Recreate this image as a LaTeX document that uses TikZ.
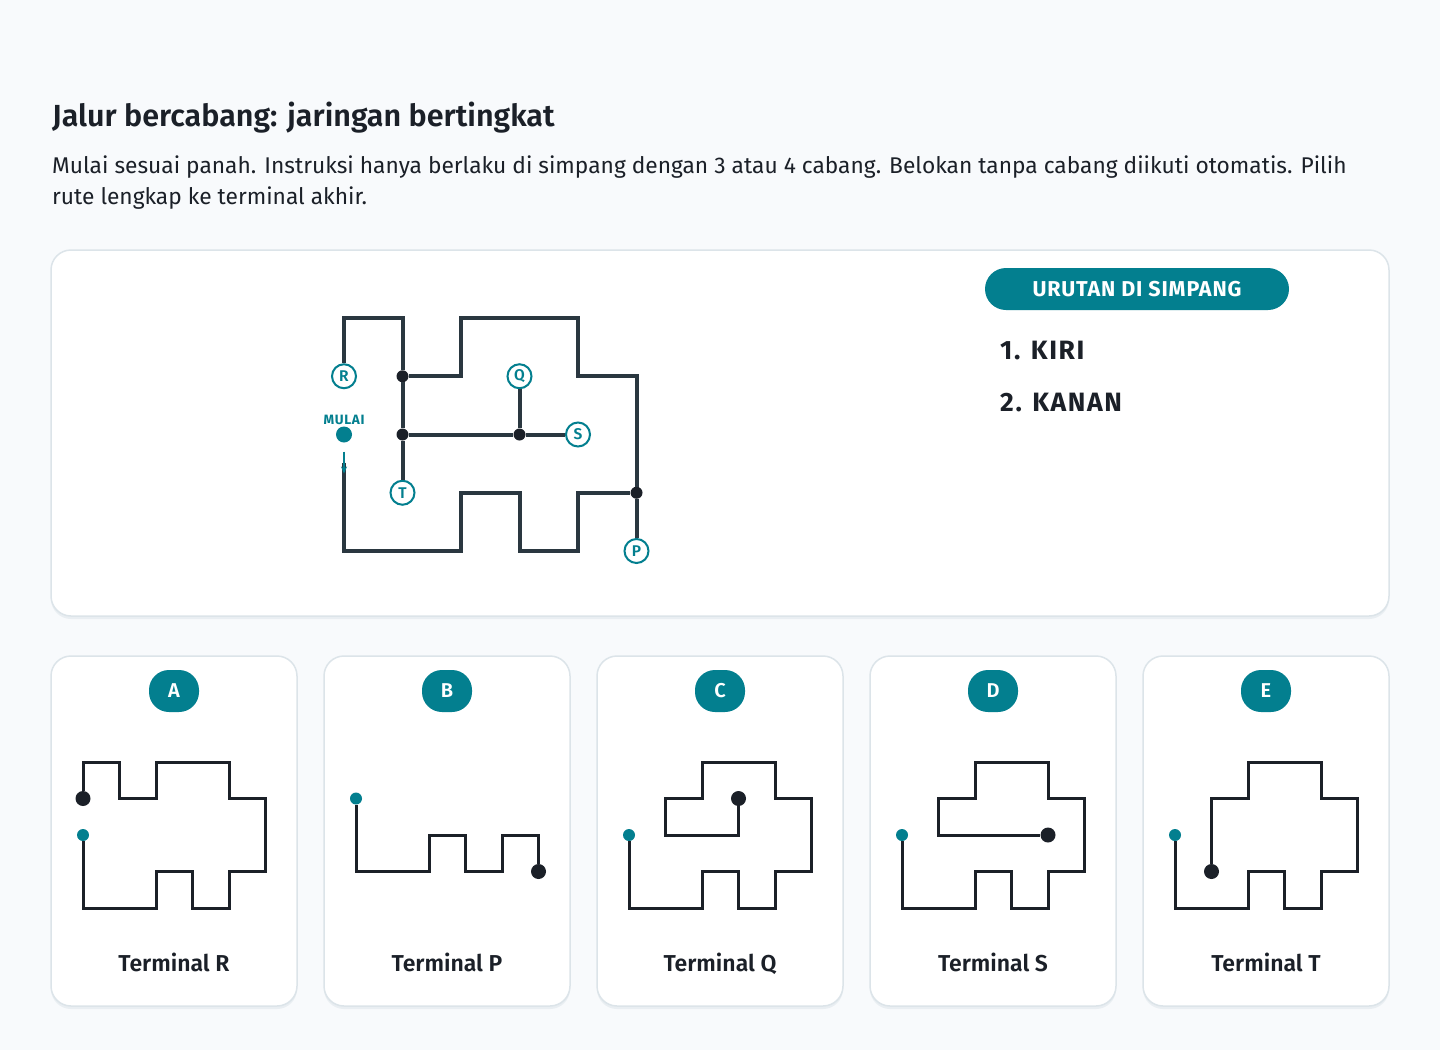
\documentclass[tikz,border=0pt]{standalone}
\usepackage{fontspec}
\setmainfont{Fira Sans}[BoldFont={Fira Sans SemiBold}]
\newfontfamily\heavyfont{Fira Sans Bold}
\usetikzlibrary{arrows.meta,shapes,positioning,backgrounds}

\definecolor{pagebg}{HTML}{F8FAFC}
\definecolor{cardline}{HTML}{DCE4E9}
\definecolor{cardshade}{HTML}{E9EEF2}
\definecolor{tealmark}{HTML}{037F8F}
\definecolor{mazeline}{HTML}{2A3740}
\definecolor{ink}{HTML}{1B2028}

\begin{document}
\begin{tikzpicture}[x=1pt,y=-1pt,>={Stealth[length=7pt,width=6pt]}]
  \tikzstyle{card}=[draw=cardline,line width=1.5pt,fill=white,rounded corners=20pt]
  \tikzstyle{shade}=[fill=cardshade,rounded corners=20pt]
  \tikzstyle{badge}=[rectangle,rounded corners=20pt,fill=tealmark,text=white,font=\bfseries\fontsize{20}{20}\selectfont,minimum width=50pt,minimum height=42pt,inner sep=0pt]
  \tikzstyle{pill}=[rectangle,rounded corners=21pt,fill=tealmark,text=white,font=\heavyfont\fontsize{21.5}{21.5}\selectfont\addfontfeature{LetterSpace=4},minimum width=304pt,minimum height=42pt,inner sep=0pt]
  \tikzstyle{terminal}=[circle,draw=tealmark,line width=2pt,fill=white,text=tealmark,font=\bfseries\fontsize{15.5}{15.5}\selectfont,minimum size=24pt,inner sep=0pt]
  \tikzstyle{junction}=[circle,fill=ink,minimum size=12pt,inner sep=0pt]
  \tikzstyle{startdot}=[circle,fill=tealmark,minimum size=16pt,inner sep=0pt]
  \tikzstyle{mulai}=[text=tealmark,font=\heavyfont\fontsize{13.5}{13.5}\selectfont\addfontfeature{LetterSpace=5},inner sep=1pt,label distance=0pt]
  \tikzstyle{wall}=[line width=4pt,draw=mazeline]
  \tikzstyle{route}=[line width=3pt,draw=ink]
  \tikzstyle{minibegin}=[circle,fill=tealmark,minimum size=12pt,inner sep=0pt]
  \tikzstyle{miniend}=[circle,fill=ink,minimum size=15pt,inner sep=0pt]
  \tikzstyle{caption}=[anchor=base,text=ink,font=\bfseries\fontsize{23}{23}\selectfont]
  \tikzstyle{steptext}=[anchor=base west,inner sep=0pt,text=ink,font=\heavyfont\fontsize{26.5}{26.5}\selectfont\addfontfeature{LetterSpace=6}]
  \tikzstyle{intro}=[anchor=base west,inner sep=0pt,text=ink,font=\fontsize{22.75}{22.75}\selectfont]

  % page and panels
  \fill [pagebg] (0,0) rectangle (1440,1050);
  \useasboundingbox (0,0) rectangle (1440,1050);
  \fill [shade] (51,253) rectangle (1389,619);
  \draw [card] (51,250) rectangle (1389,616);

  \node [anchor=base west,inner sep=0pt,text=ink,font=\bfseries\fontsize{30.5}{30.5}\selectfont] (title) at (52,126)
    {Jalur bercabang: jaringan bertingkat};
  \node [intro] (intro1) at (52,173)
    {Mulai sesuai panah. Instruksi hanya berlaku di simpang dengan 3 atau 4 cabang. Belokan tanpa cabang diikuti otomatis. Pilih};
  \node [intro] (intro2) at (52,204) {rute lengkap ke terminal akhir.};

  % order at the junctions
  \node [pill] (order) at (1137,289) {URUTAN DI SIMPANG};
  \node [steptext] (step1) at (1000,359) {1. KIRI};
  \node [steptext] (step2) at (1000,411) {2. KANAN};

  \begin{scope}[shift={(344pt,-318pt)},x=58.5pt,y=-58.25pt]
    % the network
    \node [terminal] (R) at (0,1) {R};
    \node [terminal] (T) at (1,3) {T};
    \node [terminal] (Q) at (3,1) {Q};
    \node [terminal] (S) at (4,2) {S};
    \node [terminal] (P) at (5,4) {P};
    \node [junction] (j1) at (1,1) {};
    \node [junction] (j2) at (1,2) {};
    \node [junction] (j3) at (3,2) {};
    \node [junction] (j4) at (5,3) {};
    \node [startdot,label={[mulai]above:MULAI}] (start) at (0,2) {};
    \coordinate (arrowtip) at (0,2.67);

    \draw [wall,shorten <=20pt] (start) -- (0,4) -- (2,4) -- (2,3) -- (3,3) -- (3,4) -- (4,4) -- (4,3) -- (j4);
    \draw [wall] (j4) -- (P);
    \draw [wall] (j4) -- (5,1) -- (4,1) -- (4,0) -- (2,0) -- (2,1) -- (j1);
    \draw [wall] (j1) -- (1,0) -- (0,0) -- (R);
    \draw [wall] (j1) -- (j2);
    \draw [wall] (j2) -- (T);
    \draw [wall] (j2) -- (j3);
    \draw [wall] (j3) -- (Q);
    \draw [wall] (j3) -- (S);
    \draw [->,tealmark,line width=2pt,shorten <=9pt] (start) -- (arrowtip);
  \end{scope}

  % answer cards
  \foreach \cx/\letter/\term in {51/A/R,324/B/P,597/C/Q,870/D/S,1143/E/T} {
    \fill [shade] (\cx,659) rectangle ++(246,350);
    \draw [card] (\cx,656) rectangle ++(246,350);
    \node [badge] (badge\letter) at (\cx+123,691) {\letter};
    \node [caption] (caption\letter) at (\cx+123,971) {Terminal \term};
  }

  \begin{scope}[shift={(83pt,-762pt)},x=36.5pt,y=-36.5pt]
    \node [minibegin] (beginA) at (0,2) {};
    \node [miniend] (endA) at (0,1) {};
    \draw [route] (beginA) -- (0,4) -- (2,4) -- (2,3) -- (3,3) -- (3,4) -- (4,4) -- (4,3) -- (5,3)
      -- (5,1) -- (4,1) -- (4,0) -- (2,0) -- (2,1) -- (1,1) -- (1,0) -- (0,0) -- (endA);
  \end{scope}

  \begin{scope}[shift={(356pt,-762pt)},x=36.5pt,y=-36.5pt]
    \node [minibegin] (beginB) at (0,1) {};
    \node [miniend] (endB) at (5,3) {};
    \draw [route] (beginB) -- (0,3) -- (2,3) -- (2,2) -- (3,2) -- (3,3) -- (4,3) -- (4,2) -- (5,2) -- (endB);
  \end{scope}

  \begin{scope}[shift={(629pt,-762pt)},x=36.5pt,y=-36.5pt]
    \node [minibegin] (beginC) at (0,2) {};
    \node [miniend] (endC) at (3,1) {};
    \draw [route] (beginC) -- (0,4) -- (2,4) -- (2,3) -- (3,3) -- (3,4) -- (4,4) -- (4,3) -- (5,3)
      -- (5,1) -- (4,1) -- (4,0) -- (2,0) -- (2,1) -- (1,1) -- (1,2) -- (3,2) -- (endC);
  \end{scope}

  \begin{scope}[shift={(902pt,-762pt)},x=36.5pt,y=-36.5pt]
    \node [minibegin] (beginD) at (0,2) {};
    \node [miniend] (endD) at (4,2) {};
    \draw [route] (beginD) -- (0,4) -- (2,4) -- (2,3) -- (3,3) -- (3,4) -- (4,4) -- (4,3) -- (5,3)
      -- (5,1) -- (4,1) -- (4,0) -- (2,0) -- (2,1) -- (1,1) -- (1,2) -- (endD);
  \end{scope}

  \begin{scope}[shift={(1175pt,-762pt)},x=36.5pt,y=-36.5pt]
    \node [minibegin] (beginE) at (0,2) {};
    \node [miniend] (endE) at (1,3) {};
    \draw [route] (beginE) -- (0,4) -- (2,4) -- (2,3) -- (3,3) -- (3,4) -- (4,4) -- (4,3) -- (5,3)
      -- (5,1) -- (4,1) -- (4,0) -- (2,0) -- (2,1) -- (1,1) -- (endE);
  \end{scope}
\end{tikzpicture}
\end{document}
